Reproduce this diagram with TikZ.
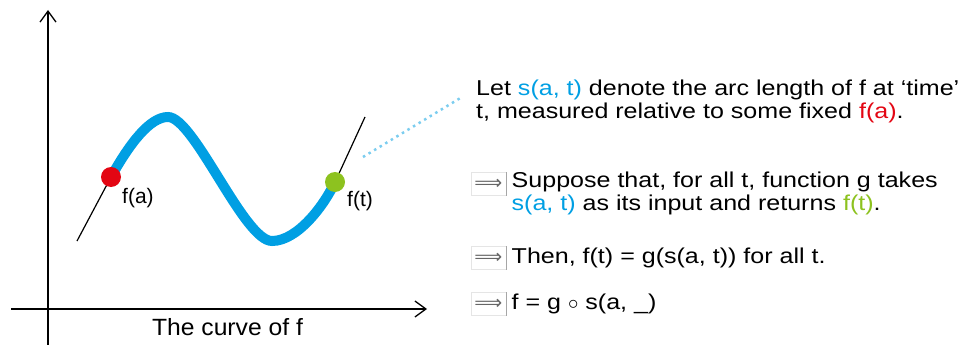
\documentclass[tikz,border=0pt]{standalone}
\usepackage{fontspec}
\setmainfont{Liberation Sans}
\newfontfamily\rfont{Liberation Sans}[FakeStretch=1.165]
\newfontfamily\cfont{Liberation Sans}[FakeStretch=1.05]
\newfontfamily\symfont{DejaVu Sans}
\usetikzlibrary{arrows.meta}
\definecolor{cblue}{HTML}{009FE3}
\definecolor{cred}{HTML}{E30613}
\definecolor{cgreen}{HTML}{8DC21F}
\definecolor{dotblue}{HTML}{7CCDEF}
\begin{document}
\begin{tikzpicture}[x=1pt,y=-1pt,
  axis/.style={line width=1.3pt,-{Straight Barb[length=11pt,width=16pt,line width=1.3pt]}},
  tangent/.style={line width=1.2pt},
  rtext/.style={anchor=base west,inner sep=0pt,font=\rfont\fontsize{21.5}{23}\selectfont},
  lab/.style={anchor=base west,inner sep=0pt,font=\fontsize{21}{24}\selectfont},
  dot/.style={circle,inner sep=0pt,minimum size=20pt},
  abox/.style={draw=black!10,line width=0.8pt,minimum width=35pt,minimum height=23pt,inner sep=0pt,anchor=north west,font=\symfont\fontsize{19.5}{19.5}\selectfont,text=black!60}]
\useasboundingbox (0,0) rectangle (963,345);
% axes
\coordinate (yb) at (48,345);
\coordinate (yt) at (48,10);
\coordinate (xl) at (11,309);
\coordinate (xr) at (427,309);
\draw[axis] (yb) -- (yt);
\draw[axis] (xl) -- (xr);
\node[anchor=base,inner sep=0pt,font=\cfont\fontsize{23.5}{26}\selectfont] (cap) at (227.5,335) {The curve of f};
% curve points
\coordinate (A) at (111,177);
\coordinate (P) at (168,117);
\coordinate (Q) at (272,241);
\coordinate (T) at (335,182);
\coordinate (ta) at (77,241);
\coordinate (tb) at (365,117);
\coordinate (tc) at (330,193);
\draw[tangent] (ta) -- (A);
\draw[tangent] (tc) -- (tb);
\draw[cblue,line width=10pt,line cap=round] (A) .. controls (130,143) and (150,117) .. (P)
   .. controls (194,117) and (244,241) .. (Q)
   .. controls (298,241) and (325,204) .. (T);
\node[dot,fill=cred] (dA) at (A) {};
\node[dot,fill=cgreen] (dT) at (T) {};
\node[lab] (la) at (122,203) {f(a)};
\node[lab] (lt) at (347,206) {f(t)};
% dotted pointer
\coordinate (d1) at (363,157);
\coordinate (d2) at (462,97);
\draw[dotblue,line width=2.5pt,dash pattern=on 2.5pt off 4pt] (d1) -- (d2);
% right text
\node[rtext] (l1) at (476,95) {Let \textcolor{cblue}{s(a, t)} denote the arc length of f at ‘time’};
\node[rtext] (l2) at (476,118) {t, measured relative to some fixed \textcolor{cred}{f(a)}.};
\node[abox] (b1) at (470.5,172) {⟹};
\draw[black!35,line width=0.8pt] (b1.north east) -- (b1.south east);
\node[rtext] (s1) at (511.5,187) {Suppose that, for all t, function g takes};
\node[rtext] (s2) at (511.5,210) {\textcolor{cblue}{s(a, t)} as its input and returns \textcolor{cgreen}{f(t)}.};
\node[abox] (b2) at (470.5,246) {⟹};
\draw[black!35,line width=0.8pt] (b2.north east) -- (b2.south east);
\node[rtext] (s3) at (511.5,263) {Then, f(t) = g(s(a, t)) for all t.};
\node[abox] (b3) at (470.5,292) {⟹};
\draw[black!35,line width=0.8pt] (b3.north east) -- (b3.south east);
\node[rtext] (s4) at (511.5,309) {f = g $\circ$ s(a, \_)};
\end{tikzpicture}
\end{document}
